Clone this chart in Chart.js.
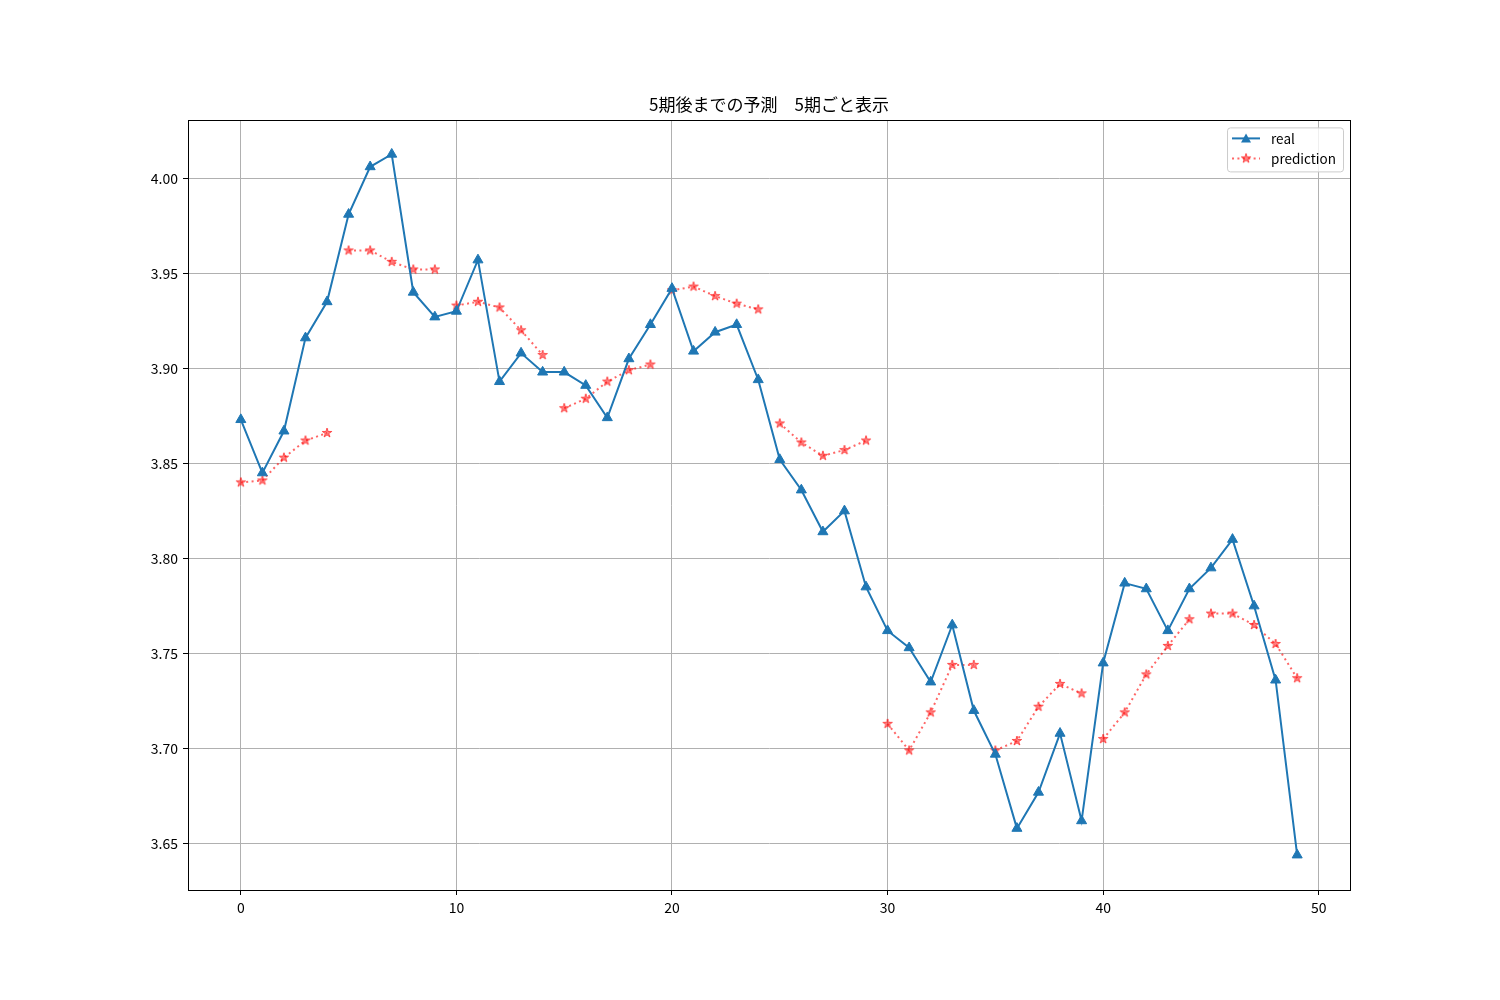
<!DOCTYPE html>
<html>
<head>
<meta charset="utf-8">
<script src="https://cdn.jsdelivr.net/npm/chart.js@4.4.1/dist/chart.umd.min.js"></script>
<style>
  html, body { margin: 0; padding: 0; background: #fff; }
  #wrap { width: 1500px; height: 1000px; }
</style>
</head>
<body>
<div id="wrap"><canvas id="chart" width="1500" height="1000"></canvas></div>
<script>
const titleText = "5期後までの予測　5期ごと表示";
const steps = Array.from({ length: 50 }, (_, i) => i);
const realValues = [
  3.873, 3.845, 3.867, 3.916, 3.935, 3.981, 4.006, 4.0126, 3.940, 3.927,
  3.930, 3.957, 3.893, 3.908, 3.898, 3.898, 3.891, 3.874, 3.905, 3.923,
  3.942, 3.909, 3.919, 3.923, 3.894, 3.852, 3.836, 3.814, 3.825, 3.785,
  3.762, 3.753, 3.735, 3.765, 3.720, 3.697, 3.658, 3.677, 3.708, 3.662,
  3.745, 3.787, 3.784, 3.762, 3.784, 3.795, 3.810, 3.775, 3.736, 3.644
];
const predValues = [
  3.840, 3.841, 3.853, 3.862, 3.866, 3.962, 3.962, 3.956, 3.952, 3.952,
  3.933, 3.935, 3.932, 3.920, 3.907, 3.879, 3.884, 3.893, 3.899, 3.902,
  3.941, 3.943, 3.938, 3.934, 3.931, 3.871, 3.861, 3.854, 3.857, 3.862,
  3.713, 3.699, 3.719, 3.744, 3.744, 3.699, 3.704, 3.722, 3.734, 3.729,
  3.705, 3.719, 3.739, 3.754, 3.768, 3.771, 3.771, 3.765, 3.755, 3.737
];
const xTicks = [0, 10, 20, 30, 40, 50];
const yTicks = [3.65, 3.70, 3.75, 3.80, 3.85, 3.90, 3.95, 4.00];
const legendLabels = ["real", "prediction"];

const blue = "#1f77b4";
const red = "rgba(255,0,0,0.6)";
const font = "'Noto Sans CJK JP', 'Noto Sans', sans-serif";

// filled star marker like matplotlib '*'
function makeStar(size, outer) {
  const c = document.createElement("canvas");
  c.width = size; c.height = size;
  const g = c.getContext("2d");
  const cx = size / 2, cy = size / 2, inner = outer * 0.382;
  g.beginPath();
  for (let k = 0; k < 10; k++) {
    const r = k % 2 === 0 ? outer : inner;
    const a = -Math.PI / 2 + k * Math.PI / 5;
    const px = cx + r * Math.cos(a), py = cy + r * Math.sin(a);
    if (k === 0) g.moveTo(px, py); else g.lineTo(px, py);
  }
  g.closePath();
  g.fillStyle = "rgba(255,0,0,0.5)";
  g.fill();
  g.lineWidth = 1;
  g.strokeStyle = "rgba(255,0,0,0.6)";
  g.stroke();
  return c;
}
const star = makeStar(14, 5);

// box around plot + legend inside upper right
const framePlugin = {
  id: "frame",
  afterDraw(chart) {
    const { ctx, chartArea: a } = chart;
    ctx.save();
    ctx.strokeStyle = "#000";
    ctx.lineWidth = 1;
    ctx.strokeRect(Math.round(a.left) + 0.5, Math.round(a.top) + 0.5,
      Math.round(a.right - a.left), Math.round(a.bottom - a.top));

    // legend
    const right = a.right - 7, top = a.top + 7;
    ctx.font = "13.5px " + font;
    const tw = Math.max(...legendLabels.map(t => ctx.measureText(t).width));
    const w = 44 + tw + 7, h = 44;
    const left = right - w;
    ctx.beginPath();
    ctx.roundRect(left + 0.5, top + 0.5, w, h, 3);
    ctx.fillStyle = "rgba(255,255,255,0.8)";
    ctx.fill();
    ctx.strokeStyle = "#cccccc";
    ctx.stroke();

    const rows = [top + 11, top + 31];
    const lx0 = left + 5, lx1 = left + 33, mx = left + 19;
    // real
    ctx.strokeStyle = blue; ctx.lineWidth = 2; ctx.setLineDash([]);
    ctx.beginPath(); ctx.moveTo(lx0, rows[0]); ctx.lineTo(lx1, rows[0]); ctx.stroke();
    ctx.fillStyle = blue;
    ctx.beginPath();
    ctx.moveTo(mx, rows[0] - 5); ctx.lineTo(mx + 5, rows[0] + 4); ctx.lineTo(mx - 5, rows[0] + 4);
    ctx.closePath(); ctx.fill();
    // prediction
    ctx.strokeStyle = red; ctx.setLineDash([2, 3.4]);
    ctx.beginPath(); ctx.moveTo(lx0, rows[1]); ctx.lineTo(lx1, rows[1]); ctx.stroke();
    ctx.setLineDash([]);
    ctx.drawImage(star, mx - 7, rows[1] - 7);

    ctx.fillStyle = "#000";
    ctx.textBaseline = "middle";
    ctx.fillText(legendLabels[0], left + 44, rows[0]);
    ctx.fillText(legendLabels[1], left + 44, rows[1]);
    ctx.restore();
  }
};

const config = {
  type: "line",
  data: {
    datasets: [{
      label: legendLabels[0],
      data: steps.map((x, i) => ({ x: x, y: realValues[i] })),
      borderColor: blue,
      backgroundColor: blue,
      borderWidth: 2,
      pointStyle: "triangle",
      pointRadius: 5.8,
      pointBorderWidth: 1,
      pointHoverRadius: 5.8,
      tension: 0
    }, {
      label: legendLabels[1],
      data: steps.map((x, i) => ({ x: x, y: predValues[i] })),
      borderColor: red,
      borderWidth: 2,
      borderDash: [2, 3.4],
      pointStyle: star,
      tension: 0,
      segment: {
        borderColor: ctx => (ctx.p0DataIndex % 5 === 4 ? "rgba(0,0,0,0)" : red)
      }
    }]
  },
  options: {
    responsive: false,
    animation: false,
    layout: { padding: { left: 118, right: 150, top: 94, bottom: 72 } },
    plugins: {
      legend: { display: false },
      tooltip: { enabled: false },
      title: {
        display: true,
        text: titleText,
        fullSize: false,
        color: "#000",
        font: { family: font, size: 17, weight: "normal" },
        padding: { top: 0, bottom: 6 }
      }
    },
    scales: {
      x: {
        type: "linear",
        min: -2.45,
        max: 51.45,
        afterBuildTicks: axis => { axis.ticks = xTicks.map(v => ({ value: v })); },
        afterFit: axis => { axis.height = 38; },
        grid: { color: "#b0b0b0", lineWidth: 1, tickColor: "#000", tickLength: 5 },
        border: { color: "#000", width: 1 },
        ticks: { color: "#000", padding: 4, maxRotation: 0, font: { family: font, size: 14 } }
      },
      y: {
        type: "linear",
        min: 3.6256,
        max: 4.0304,
        afterBuildTicks: axis => { axis.ticks = yTicks.map(v => ({ value: v })); },
        afterFit: axis => { axis.width = 70; },
        grid: { color: "#b0b0b0", lineWidth: 1, tickColor: "#000", tickLength: 5 },
        border: { color: "#000", width: 1 },
        ticks: {
          color: "#000", padding: 5, font: { family: font, size: 14 },
          callback: v => v.toFixed(2)
        }
      }
    }
  },
  plugins: [framePlugin]
};

const chart = new Chart(document.getElementById("chart"), config);
</script>
</body>
</html>
